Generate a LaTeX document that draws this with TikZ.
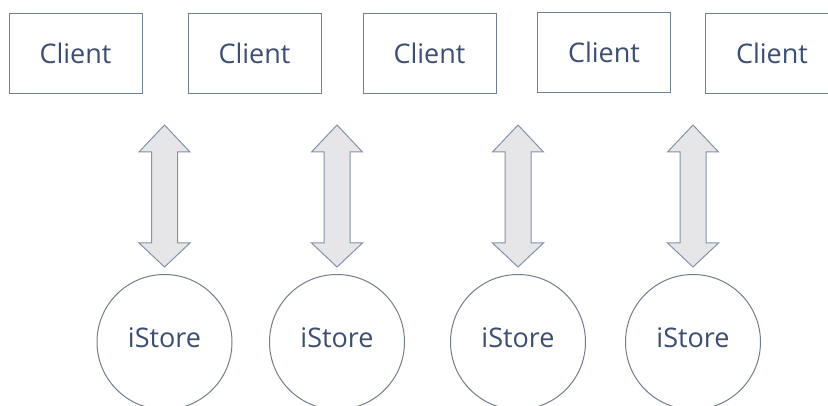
\documentclass[tikz,border=0pt]{standalone}
\usepackage{fontspec}
\setmainfont{Open Sans}
\begin{document}
\begin{tikzpicture}[x=1pt,y=-1pt,
  client/.style={draw=boxcol,line width=1pt,minimum width=133pt,minimum height=80pt,inner sep=0pt,text=txtcol,font=\fontsize{27}{31}\selectfont},
  store/.style={draw=circcol,line width=1pt,circle,minimum size=135pt,inner sep=0pt,text=txtcol,font=\fontsize{27}{31}\selectfont},
  darrow/.style={draw=arrcol,fill=arrfill,line width=1pt,line join=miter}]
\definecolor{boxcol}{HTML}{6F7F95}
\definecolor{circcol}{HTML}{737D8C}
\definecolor{txtcol}{HTML}{3D4E72}
\definecolor{arrcol}{HTML}{8393A8}
\definecolor{arrfill}{HTML}{E6E6E8}
\useasboundingbox (0,0) rectangle (828,406);
\fill[white] (0,0) rectangle (828,406);
\node[client] (c1) at (75.5,53.5) {Client};
\node[client] (c2) at (254.5,53.5) {Client};
\node[client] (c3) at (429.5,53.5) {Client};
\node[client] (c4) at (604,52.5) {Client};
\node[client,minimum width=0pt,draw=none] (c5) at (772,53.5) {Client};
\draw[boxcol,line width=1pt] (835,13.5) -- (705,13.5) -- (705,93.5) -- (835,93.5);
\foreach \n/\cx in {1/164.5,2/337,3/518,4/693}{
  \node[store] (s\n) at (\cx,342) {};
  \node[text=txtcol,font=\fontsize{27}{31}\selectfont,inner sep=0pt] (t\n) at (\cx,338) {iStore};
  \draw[darrow] (\cx,125) -- (\cx+25.5,152) -- (\cx+13,152) -- (\cx+13,243) -- (\cx+25.5,243)
    -- (\cx,267) -- (\cx-25.5,243) -- (\cx-13,243) -- (\cx-13,152) -- (\cx-25.5,152) -- cycle;
}
\end{tikzpicture}
\end{document}
